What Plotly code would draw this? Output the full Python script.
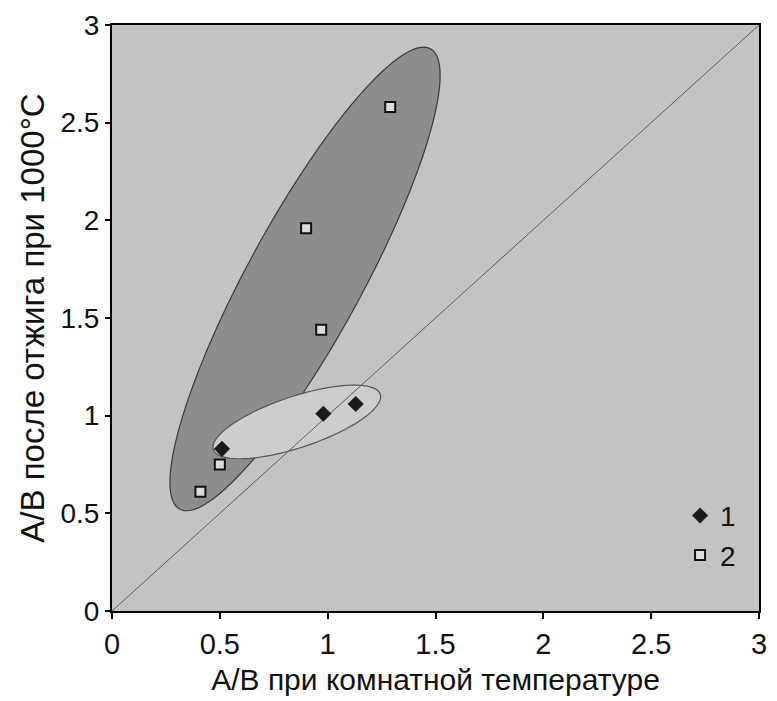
import numpy as np
import plotly.graph_objects as go

# Data
s1_x = [0.51, 0.98, 1.13]
s1_y = [0.83, 1.01, 1.06]
s2_x = [0.41, 0.50, 0.97, 0.90, 1.29]
s2_y = [0.61, 0.75, 1.44, 1.96, 2.58]
series_names = ["1", "2"]
tick_vals = [0, 0.5, 1, 1.5, 2, 2.5, 3]
tick_text = ["0", "0.5", "1", "1.5", "2", "2.5", "3"]

# Plot geometry (px per data unit) used to draw ellipses in screen-proportional form
L, R, T, B = 112, 10, 17, 89
W, H = 777, 701
sx = (W - L - R) / 3.0
sy = (H - T - B) / 3.0

def ellipse_path(cx, cy, a_px, b_px, ang_deg, n=120):
    t = np.linspace(0, 2 * np.pi, n)
    th = np.radians(ang_deg)
    u = a_px * np.cos(t)
    v = b_px * np.sin(t)
    dx = u * np.cos(th) - v * np.sin(th)
    dy = u * np.sin(th) + v * np.cos(th)
    xs = cx + dx / sx
    ys = cy + dy / sy
    return "M " + " L ".join(f"{x:.4f},{y:.4f}" for x, y in zip(xs, ys)) + " Z"

fig = go.Figure()

shapes = [
    dict(type="path", path=ellipse_path(0.895, 1.70, 266, 58, 61.5),
         xref="x", yref="y", fillcolor="#8d8d8d", line=dict(color="#3a3a3a", width=1.2), layer="below"),
    dict(type="path", path=ellipse_path(0.857, 0.968, 89, 26, 18.4),
         xref="x", yref="y", fillcolor="#cdcdcd", line=dict(color="#555555", width=1.2), layer="below"),
    dict(type="line", x0=0, y0=0, x1=3, y1=3, xref="x", yref="y",
         line=dict(color="#5a5a5a", width=1), layer="below"),
]

fig.add_trace(go.Scatter(
    x=s1_x, y=s1_y, mode="markers", name=series_names[0],
    marker=dict(symbol="diamond", size=12, color="#1a1a1a", line=dict(color="#1a1a1a", width=0.5)),
))
fig.add_trace(go.Scatter(
    x=s2_x, y=s2_y, mode="markers", name=series_names[1],
    marker=dict(symbol="square", size=10, color="#dcdcdc", line=dict(color="#111111", width=2)),
))

font_family = "Liberation Sans, Arial, sans-serif"
tick_font_x = dict(family=font_family, size=29, color="#111111")
tick_font_y = dict(family=font_family, size=28, color="#111111")

fig.update_layout(
    width=W, height=H,
    margin=dict(l=L, r=R, t=T, b=B),
    paper_bgcolor="white",
    plot_bgcolor="#c3c3c3",
    shapes=shapes,
    font=dict(family=font_family, size=28, color="#111111"),
    showlegend=True,
    legend=dict(x=0.878, y=0.205, xanchor="left", yanchor="top", itemwidth=30,
                tracegroupgap=0, bgcolor="rgba(0,0,0,0)", font=dict(size=28)),
)
fig.update_xaxes(range=[0, 3], tickmode="array", tickvals=tick_vals, ticktext=tick_text,
                 tickfont=tick_font_x,
                 showgrid=False, zeroline=False, showline=True, linecolor="black", linewidth=2,
                 mirror=True, ticks="outside", ticklen=6, tickwidth=2, tickcolor="black",
                 title=dict(text="A/B при комнатной температуре",
                            font=dict(family=font_family, size=30, color="#111111"), standoff=10))
fig.update_yaxes(range=[0, 3], tickmode="array", tickvals=tick_vals, ticktext=tick_text,
                 tickfont=tick_font_y,
                 showgrid=False, zeroline=False, showline=True, linecolor="black", linewidth=2,
                 mirror=True, ticks="outside", ticklen=5, tickwidth=2, tickcolor="black",
                 title=dict(text="A/B после отжига при 1000°C",
                            font=dict(family=font_family, size=33, color="#111111"), standoff=6))

fig.write_html("out.html")
